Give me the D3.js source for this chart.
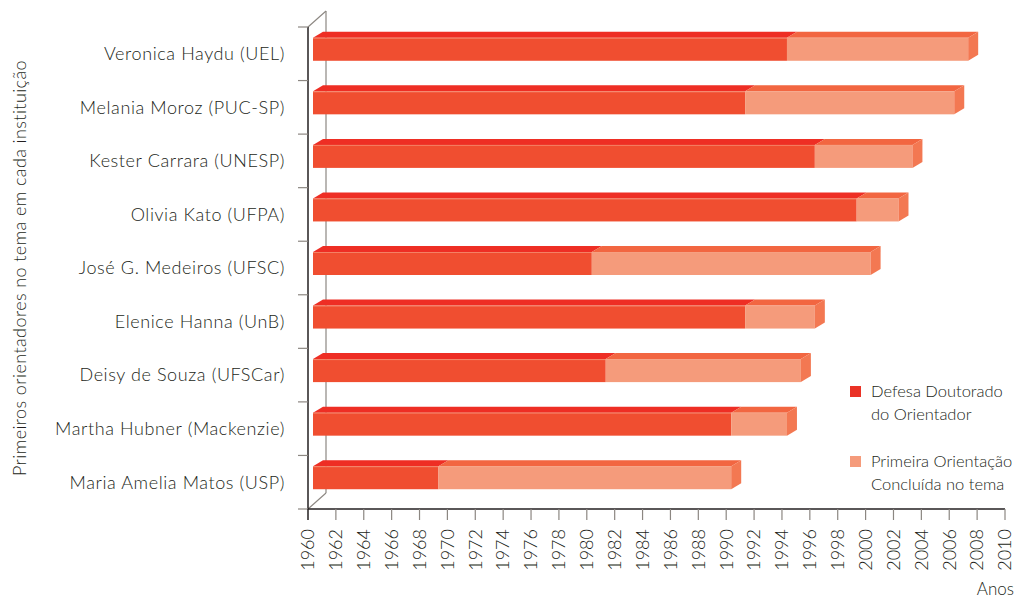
<!DOCTYPE html>
<html>
<head>
<meta charset="utf-8">
<script src="https://cdnjs.cloudflare.com/ajax/libs/d3/7.8.5/d3.min.js"></script>
<style>
  body { margin: 0; background: #fff; }
  text { font-family: Lato, "Open Sans", sans-serif; font-weight: 300; fill: #231f20; }
</style>
</head>
<body>
<div id="chart"></div>
<script>
// Data
const orientadores = [
  "Veronica Haydu (UEL)",
  "Melania Moroz (PUC-SP)",
  "Kester Carrara (UNESP)",
  "Olivia Kato (UFPA)",
  "José G. Medeiros (UFSC)",
  "Elenice Hanna (UnB)",
  "Deisy de Souza (UFSCar)",
  "Martha Hubner (Mackenzie)",
  "Maria Amelia Matos (USP)"
];
const defesaDoutorado = [1994, 1991, 1996, 1999, 1980, 1991, 1981, 1990, 1969];
const primeiraOrientacao = [2007, 2006, 2003, 2002, 2000, 1996, 1995, 1994, 1990];
const anoInicio = 1960;
const anos = d3.range(1960, 2011, 2);

const width = 1018, height = 600;
const svg = d3.select("#chart").append("svg")
  .attr("width", width)
  .attr("height", height);

const x = d3.scaleLinear().domain([1960, 2010]).range([308, 1005]);
const y = d3.scaleBand().domain(orientadores).range([27, 509]);

// 3D offsets (wall depth, bar position in depth, bar thickness)
const wall = { dx: 18, dy: -16 };
const barShift = { dx: 5, dy: -4.5 };
const barDepth = { dx: 10, dy: -6 };
const barH = 23;

const gray = "#8c8782";

// back wall + floor edges
svg.append("line")
  .attr("x1", x(1960) + wall.dx).attr("x2", x(1960) + wall.dx)
  .attr("y1", y.range()[0] + wall.dy).attr("y2", y.range()[1] + wall.dy)
  .attr("stroke", gray).attr("stroke-width", 1.2);
svg.append("line")
  .attr("x1", x(1960)).attr("y1", y.range()[0])
  .attr("x2", x(1960) + wall.dx).attr("y2", y.range()[0] + wall.dy)
  .attr("stroke", gray).attr("stroke-width", 1.2);
svg.append("line")
  .attr("x1", x(1960)).attr("y1", y.range()[1])
  .attr("x2", x(1960) + wall.dx).attr("y2", y.range()[1] + wall.dy)
  .attr("stroke", gray).attr("stroke-width", 1.2);

// bars
const colors = {
  red: { front: "#f04e30", top: "#ee2e24" },
  light: { front: "#f59b7b", top: "#f26641", side: "#f37852" }
};

function poly(pts) {
  return "M" + pts.map(p => p.join(",")).join("L") + "Z";
}

orientadores.forEach((name, i) => {
  const g = svg.append("g");
  const y0 = y(name) + y.bandwidth() / 2 - barH / 2 + barShift.dy;
  const segs = [
    { a: anoInicio, b: defesaDoutorado[i], c: colors.red },
    { a: defesaDoutorado[i], b: primeiraOrientacao[i], c: colors.light }
  ];
  segs.forEach(s => {
    const x0 = x(s.a) + barShift.dx, x1 = x(s.b) + barShift.dx;
    g.append("path")
      .attr("d", poly([[x0, y0], [x1, y0], [x1 + barDepth.dx, y0 + barDepth.dy], [x0 + barDepth.dx, y0 + barDepth.dy]]))
      .attr("fill", s.c.top);
    g.append("rect")
      .attr("x", x0).attr("y", y0)
      .attr("width", x1 - x0).attr("height", barH)
      .attr("fill", s.c.front);
  });
  const xe = x(primeiraOrientacao[i]) + barShift.dx;
  g.append("path")
    .attr("d", poly([[xe, y0], [xe + barDepth.dx, y0 + barDepth.dy], [xe + barDepth.dx, y0 + barDepth.dy + barH], [xe, y0 + barH]]))
    .attr("fill", colors.light.side);
  g.append("line")
    .attr("x1", x(anoInicio) + barShift.dx).attr("x2", xe)
    .attr("y1", y0 + 0.5).attr("y2", y0 + 0.5)
    .attr("stroke", "#f7a488").attr("stroke-width", 1).attr("opacity", 0.6);
});

// y axis (front left edge)
svg.append("line")
  .attr("x1", x(1960)).attr("x2", x(1960))
  .attr("y1", y.range()[0]).attr("y2", y.range()[1])
  .attr("stroke", "#231f20").attr("stroke-width", 1.5);
const yTicks = orientadores.map(d => y(d)).concat([y.range()[1]]);
svg.selectAll(".ytick").data(yTicks).enter().append("line")
  .attr("x1", x(1960) - 10).attr("x2", x(1960))
  .attr("y1", d => d).attr("y2", d => d)
  .attr("stroke", gray).attr("stroke-width", 1.2);

svg.selectAll(".ylabel").data(orientadores).enter().append("text")
  .attr("x", 285)
  .attr("y", d => y(d) + y.bandwidth() / 2)
  .attr("dy", "0.35em")
  .attr("text-anchor", "end")
  .attr("font-size", 18)
  .attr("letter-spacing", 0.6)
  .text(d => d);

// x axis
svg.append("line")
  .attr("x1", x(1960)).attr("x2", x(2010))
  .attr("y1", y.range()[1]).attr("y2", y.range()[1])
  .attr("stroke", "#231f20").attr("stroke-width", 1.5);
svg.selectAll(".xtick").data(anos).enter().append("line")
  .attr("x1", d => x(d)).attr("x2", d => x(d))
  .attr("y1", y.range()[1]).attr("y2", y.range()[1] + 11)
  .attr("stroke", d => d === 1960 ? "#231f20" : gray)
  .attr("stroke-width", d => d === 1960 ? 1.5 : 1.2);
svg.selectAll(".xlabel").data(anos).enter().append("text")
  .attr("transform", d => `translate(${x(d)},529) rotate(-90)`)
  .attr("dy", "0.35em")
  .attr("text-anchor", "end")
  .attr("font-size", 18)
  .text(d => d);

svg.append("text")
  .attr("x", 1014).attr("y", 595)
  .attr("text-anchor", "end")
  .attr("font-size", 17)
  .text("Anos");

svg.append("text")
  .attr("transform", "translate(20,268) rotate(-90)")
  .attr("dy", "0.35em")
  .attr("text-anchor", "middle")
  .attr("font-size", 18)
  .attr("letter-spacing", 0.4)
  .text("Primeiros orientadores no tema em cada instituição");

// legend
const legend = [
  { color: "#ea3226", lines: ["Defesa Doutorado", "do Orientador"], y: 391 },
  { color: "#f59b7b", lines: ["Primeira Orientação", "Concluída no tema"], y: 461 }
];
legend.forEach(l => {
  svg.append("rect")
    .attr("x", 850).attr("y", l.y - 5)
    .attr("width", 11).attr("height", 11)
    .attr("fill", l.color);
  l.lines.forEach((t, k) => {
    svg.append("text")
      .attr("x", 871).attr("y", l.y + k * 23)
      .attr("dy", "0.35em")
      .attr("font-size", 16.5)
      .text(t);
  });
});
</script>
</body>
</html>
